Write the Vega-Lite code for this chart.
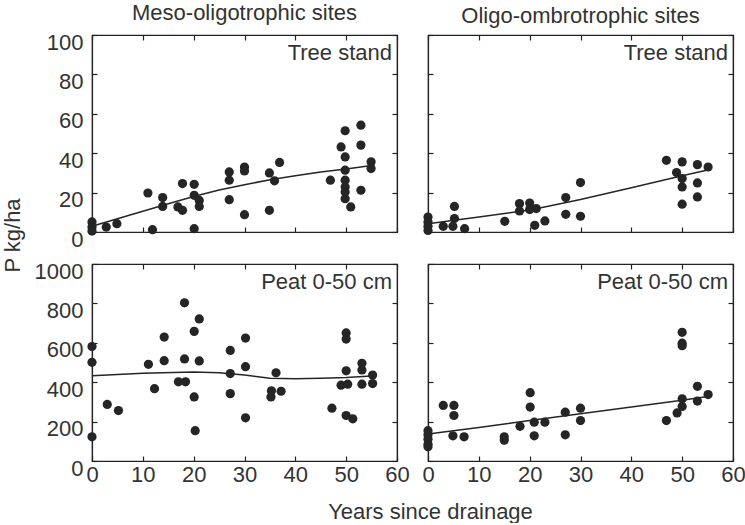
{
  "$schema": "https://vega.github.io/schema/vega-lite/v6.json",
  "background": "white",
  "padding": {"left": 0, "top": 1, "right": 0, "bottom": 0},
  "config": {
    "font": "Liberation Sans",
    "view": {"stroke": "#222", "strokeWidth": 1.2},
    "axis": {
      "grid": false,
      "domainColor": "#222",
      "domainWidth": 1.2,
      "tickColor": "#222",
      "tickSize": -5,
      "tickWidth": 1.2,
      "labelFontSize": 22,
      "labelColor": "#333",
      "labelPadding": 8,
      "labelFlush": false,
      "labelOverlap": false,
      "titleFontSize": 22,
      "titleFontWeight": "normal",
      "titleColor": "#333"
    },
    "axisY": {"labelPadding": 14, "labelOffset": 7, "format": "d"},
    "title": {"fontSize": 22, "fontWeight": "normal", "color": "#333", "offset": 6, "frame": "group", "baseline": "alphabetic"}
  },
  "datasets": {
    "points": [
      {"panel": "tm", "x": 0, "y": 5.1}, {"panel": "tm", "x": 0, "y": 2.5}, {"panel": "tm", "x": 0, "y": 0.5},
      {"panel": "tm", "x": 2.8, "y": 2.5}, {"panel": "tm", "x": 4.9, "y": 4.2}, {"panel": "tm", "x": 11, "y": 19.8},
      {"panel": "tm", "x": 11.9, "y": 1.2}, {"panel": "tm", "x": 13.9, "y": 17.5}, {"panel": "tm", "x": 13.9, "y": 13},
      {"panel": "tm", "x": 16.9, "y": 12.7}, {"panel": "tm", "x": 17.8, "y": 11}, {"panel": "tm", "x": 17.8, "y": 24.6},
      {"panel": "tm", "x": 20.1, "y": 24.2}, {"panel": "tm", "x": 20.1, "y": 1.7}, {"panel": "tm", "x": 20.1, "y": 18.6},
      {"panel": "tm", "x": 21.1, "y": 16}, {"panel": "tm", "x": 21.1, "y": 13}, {"panel": "tm", "x": 27, "y": 30.5},
      {"panel": "tm", "x": 27, "y": 26.3}, {"panel": "tm", "x": 27, "y": 16.4}, {"panel": "tm", "x": 30, "y": 33},
      {"panel": "tm", "x": 30, "y": 31}, {"panel": "tm", "x": 30, "y": 8.8}, {"panel": "tm", "x": 34.9, "y": 30},
      {"panel": "tm", "x": 35.9, "y": 26}, {"panel": "tm", "x": 34.9, "y": 11}, {"panel": "tm", "x": 36.9, "y": 35.3},
      {"panel": "tm", "x": 46.9, "y": 26.3}, {"panel": "tm", "x": 49.8, "y": 51.4}, {"panel": "tm", "x": 49, "y": 43.2},
      {"panel": "tm", "x": 49.8, "y": 38.1}, {"panel": "tm", "x": 49.8, "y": 31.4}, {"panel": "tm", "x": 49.8, "y": 26.3},
      {"panel": "tm", "x": 49.8, "y": 22.9}, {"panel": "tm", "x": 49.8, "y": 20.3}, {"panel": "tm", "x": 49.8, "y": 16.9},
      {"panel": "tm", "x": 50.9, "y": 12.7}, {"panel": "tm", "x": 52.9, "y": 54.2}, {"panel": "tm", "x": 52.9, "y": 44.1},
      {"panel": "tm", "x": 52.9, "y": 21.2}, {"panel": "tm", "x": 54.9, "y": 35.6}, {"panel": "tm", "x": 54.9, "y": 32.2},

      {"panel": "to", "x": 0, "y": 7.6}, {"panel": "to", "x": 0, "y": 5.1}, {"panel": "to", "x": 0, "y": 2.9},
      {"panel": "to", "x": 0, "y": 0.8}, {"panel": "to", "x": 3, "y": 2.9}, {"panel": "to", "x": 5.2, "y": 13},
      {"panel": "to", "x": 5.2, "y": 6.8}, {"panel": "to", "x": 4.9, "y": 2.9}, {"panel": "to", "x": 7.2, "y": 1.7},
      {"panel": "to", "x": 15.1, "y": 5.4}, {"panel": "to", "x": 18, "y": 14.4}, {"panel": "to", "x": 18, "y": 10.7},
      {"panel": "to", "x": 20, "y": 14.7}, {"panel": "to", "x": 20, "y": 11.4}, {"panel": "to", "x": 21.3, "y": 11.9},
      {"panel": "to", "x": 21, "y": 3.4}, {"panel": "to", "x": 23, "y": 5.6}, {"panel": "to", "x": 27.1, "y": 17.5},
      {"panel": "to", "x": 27.1, "y": 9}, {"panel": "to", "x": 30, "y": 25.1}, {"panel": "to", "x": 30, "y": 8},
      {"panel": "to", "x": 46.9, "y": 36.4}, {"panel": "to", "x": 50, "y": 35.6}, {"panel": "to", "x": 48.9, "y": 30.2},
      {"panel": "to", "x": 50, "y": 27.1}, {"panel": "to", "x": 50, "y": 22.9}, {"panel": "to", "x": 50, "y": 14.1},
      {"panel": "to", "x": 53, "y": 34.2}, {"panel": "to", "x": 53, "y": 24.9}, {"panel": "to", "x": 53, "y": 17.8},
      {"panel": "to", "x": 55.1, "y": 33},

      {"panel": "pm", "x": 0, "y": 581}, {"panel": "pm", "x": 0, "y": 501}, {"panel": "pm", "x": 0, "y": 123},
      {"panel": "pm", "x": 3, "y": 287}, {"panel": "pm", "x": 5.2, "y": 256}, {"panel": "pm", "x": 11.1, "y": 491},
      {"panel": "pm", "x": 12.3, "y": 367}, {"panel": "pm", "x": 14.2, "y": 629}, {"panel": "pm", "x": 14.2, "y": 509},
      {"panel": "pm", "x": 17, "y": 402}, {"panel": "pm", "x": 18.4, "y": 402}, {"panel": "pm", "x": 18.2, "y": 803},
      {"panel": "pm", "x": 18.2, "y": 518}, {"panel": "pm", "x": 20.1, "y": 658}, {"panel": "pm", "x": 21.1, "y": 721},
      {"panel": "pm", "x": 21.1, "y": 508}, {"panel": "pm", "x": 20.1, "y": 325}, {"panel": "pm", "x": 20.3, "y": 154},
      {"panel": "pm", "x": 27.2, "y": 561}, {"panel": "pm", "x": 27.2, "y": 444}, {"panel": "pm", "x": 27.2, "y": 342},
      {"panel": "pm", "x": 30.2, "y": 624}, {"panel": "pm", "x": 30.2, "y": 479}, {"panel": "pm", "x": 30.2, "y": 219},
      {"panel": "pm", "x": 35.2, "y": 325}, {"panel": "pm", "x": 35.3, "y": 356}, {"panel": "pm", "x": 37.2, "y": 354},
      {"panel": "pm", "x": 36.2, "y": 448}, {"panel": "pm", "x": 47.2, "y": 268}, {"panel": "pm", "x": 50, "y": 650},
      {"panel": "pm", "x": 50, "y": 619}, {"panel": "pm", "x": 50, "y": 458}, {"panel": "pm", "x": 49, "y": 385},
      {"panel": "pm", "x": 50.3, "y": 390}, {"panel": "pm", "x": 50, "y": 231}, {"panel": "pm", "x": 51.3, "y": 214},
      {"panel": "pm", "x": 53.1, "y": 496}, {"panel": "pm", "x": 53.1, "y": 462}, {"panel": "pm", "x": 53.1, "y": 390},
      {"panel": "pm", "x": 55.2, "y": 436}, {"panel": "pm", "x": 55.2, "y": 393},

      {"panel": "po", "x": 0, "y": 154}, {"panel": "po", "x": 0, "y": 133}, {"panel": "po", "x": 0, "y": 111},
      {"panel": "po", "x": 0, "y": 85}, {"panel": "po", "x": 0, "y": 72}, {"panel": "po", "x": 3, "y": 282},
      {"panel": "po", "x": 5.1, "y": 282}, {"panel": "po", "x": 5.1, "y": 231}, {"panel": "po", "x": 4.9, "y": 128},
      {"panel": "po", "x": 7.1, "y": 123}, {"panel": "po", "x": 15, "y": 123}, {"panel": "po", "x": 15, "y": 106},
      {"panel": "po", "x": 18.1, "y": 176}, {"panel": "po", "x": 20.1, "y": 347}, {"panel": "po", "x": 20.1, "y": 274},
      {"panel": "po", "x": 20.9, "y": 197}, {"panel": "po", "x": 20.9, "y": 128}, {"panel": "po", "x": 23, "y": 197},
      {"panel": "po", "x": 27, "y": 248}, {"panel": "po", "x": 27, "y": 133}, {"panel": "po", "x": 30, "y": 268},
      {"panel": "po", "x": 30, "y": 205}, {"panel": "po", "x": 46.9, "y": 205}, {"panel": "po", "x": 49, "y": 244},
      {"panel": "po", "x": 50, "y": 653}, {"panel": "po", "x": 50, "y": 598}, {"panel": "po", "x": 50, "y": 585},
      {"panel": "po", "x": 50, "y": 316}, {"panel": "po", "x": 50, "y": 277}, {"panel": "po", "x": 53, "y": 379},
      {"panel": "po", "x": 53, "y": 304}, {"panel": "po", "x": 55.1, "y": 337}
    ],
    "fits": [
      {"panel": "tm", "x": 0, "y": 2.9}, {"panel": "tm", "x": 5, "y": 6.7}, {"panel": "tm", "x": 10, "y": 10.5},
      {"panel": "tm", "x": 15, "y": 14.3}, {"panel": "tm", "x": 20, "y": 18}, {"panel": "tm", "x": 25, "y": 21.3},
      {"panel": "tm", "x": 30, "y": 24}, {"panel": "tm", "x": 35, "y": 26.5}, {"panel": "tm", "x": 40, "y": 28.6},
      {"panel": "tm", "x": 45, "y": 30.4}, {"panel": "tm", "x": 50, "y": 32}, {"panel": "tm", "x": 55, "y": 33.8},

      {"panel": "to", "x": 0, "y": 4.2}, {"panel": "to", "x": 10, "y": 7.6}, {"panel": "to", "x": 20, "y": 11.2},
      {"panel": "to", "x": 21.5, "y": 11.9}, {"panel": "to", "x": 30, "y": 16.5}, {"panel": "to", "x": 40, "y": 22.5},
      {"panel": "to", "x": 50, "y": 28.5}, {"panel": "to", "x": 55, "y": 31.5},

      {"panel": "pm", "x": 0, "y": 433}, {"panel": "pm", "x": 10, "y": 446}, {"panel": "pm", "x": 20, "y": 452},
      {"panel": "pm", "x": 25, "y": 448}, {"panel": "pm", "x": 30, "y": 436}, {"panel": "pm", "x": 35, "y": 420},
      {"panel": "pm", "x": 40, "y": 418}, {"panel": "pm", "x": 45, "y": 420}, {"panel": "pm", "x": 50, "y": 424},
      {"panel": "pm", "x": 55, "y": 432},

      {"panel": "po", "x": 0, "y": 137}, {"panel": "po", "x": 10, "y": 170}, {"panel": "po", "x": 20, "y": 205},
      {"panel": "po", "x": 30, "y": 240}, {"panel": "po", "x": 40, "y": 274}, {"panel": "po", "x": 50, "y": 308},
      {"panel": "po", "x": 55, "y": 327}
    ]
  },
  "concat": [
    {
      "width": 305, "height": 197,
      "title": "Meso-oligotrophic sites",
      "layer": [
        {
          "data": {"name": "points"},
          "transform": [{"filter": "datum.panel === 'tm'"}],
          "mark": {"type": "circle", "size": 85, "color": "#252525", "opacity": 1},
          "encoding": {
            "x": {"field": "x", "type": "quantitative", "scale": {"domain": [0, 60], "nice": false},
                  "axis": {"orient": "bottom", "values": [0, 10, 20, 30, 40, 50, 60], "labels": false, "title": null}},
            "y": {"field": "y", "type": "quantitative", "scale": {"domain": [0, 100], "nice": false},
                  "axis": {"orient": "left", "values": [0, 20, 40, 60, 80, 100], "title": "P kg/ha", "titleX": -68, "titleY": 200, "titleAlign": "center", "titleBaseline": "bottom"}}
          }
        },
        {
          "data": {"name": "fits"},
          "transform": [{"filter": "datum.panel === 'tm'"}],
          "mark": {"type": "line", "color": "#252525", "strokeWidth": 1.5},
          "encoding": {
            "x": {"field": "x", "type": "quantitative", "axis": {"orient": "top", "values": [0, 10, 20, 30, 40, 50, 60], "labels": false, "title": null}},
            "y": {"field": "y", "type": "quantitative", "axis": {"orient": "right", "values": [0, 20, 40, 60, 80, 100], "labels": false, "title": null}}
          }
        },
        {
          "data": {"values": [{"label": "Tree stand"}]},
          "mark": {"type": "text", "align": "right", "baseline": "top", "dx": -5, "dy": 8, "fontSize": 22, "color": "#333"},
          "encoding": {
            "x": {"datum": 60, "type": "quantitative", "axis": null},
            "y": {"datum": 100, "type": "quantitative", "axis": null},
            "text": {"field": "label"}
          }
        }
      ],
      "resolve": {"axis": {"x": "independent", "y": "independent"}}
    },
    {
      "width": 305, "height": 197,
      "title": "Oligo-ombrotrophic sites",
      "layer": [
        {
          "data": {"name": "points"},
          "transform": [{"filter": "datum.panel === 'to'"}],
          "mark": {"type": "circle", "size": 85, "color": "#252525", "opacity": 1},
          "encoding": {
            "x": {"field": "x", "type": "quantitative", "scale": {"domain": [0, 60], "nice": false},
                  "axis": {"orient": "bottom", "values": [0, 10, 20, 30, 40, 50, 60], "labels": false, "title": null}},
            "y": {"field": "y", "type": "quantitative", "scale": {"domain": [0, 100], "nice": false},
                  "axis": {"orient": "left", "values": [0, 20, 40, 60, 80, 100], "labels": false, "title": null}}
          }
        },
        {
          "data": {"name": "fits"},
          "transform": [{"filter": "datum.panel === 'to'"}],
          "mark": {"type": "line", "color": "#252525", "strokeWidth": 1.5},
          "encoding": {
            "x": {"field": "x", "type": "quantitative", "axis": {"orient": "top", "values": [0, 10, 20, 30, 40, 50, 60], "labels": false, "title": null}},
            "y": {"field": "y", "type": "quantitative", "axis": {"orient": "right", "values": [0, 20, 40, 60, 80, 100], "labels": false, "title": null}}
          }
        },
        {
          "data": {"values": [{"label": "Tree stand"}]},
          "mark": {"type": "text", "align": "right", "baseline": "top", "dx": -5, "dy": 8, "fontSize": 22, "color": "#333"},
          "encoding": {
            "x": {"datum": 60, "type": "quantitative", "axis": null},
            "y": {"datum": 100, "type": "quantitative", "axis": null},
            "text": {"field": "label"}
          }
        }
      ],
      "resolve": {"axis": {"x": "independent", "y": "independent"}}
    },
    {
      "width": 305, "height": 197,
      "layer": [
        {
          "data": {"name": "points"},
          "transform": [{"filter": "datum.panel === 'pm'"}],
          "mark": {"type": "circle", "size": 85, "color": "#252525", "opacity": 1},
          "encoding": {
            "x": {"field": "x", "type": "quantitative", "scale": {"domain": [0, 60], "nice": false},
                  "axis": {"orient": "bottom", "values": [0, 10, 20, 30, 40, 50, 60], "title": "Years since drainage", "titleX": 338, "titleY": 40, "titleAlign": "center", "titleBaseline": "top"}},
            "y": {"field": "y", "type": "quantitative", "scale": {"domain": [0, 1000], "nice": false},
                  "axis": {"orient": "left", "values": [0, 200, 400, 600, 800, 1000], "title": null}}
          }
        },
        {
          "data": {"name": "fits"},
          "transform": [{"filter": "datum.panel === 'pm'"}],
          "mark": {"type": "line", "color": "#252525", "strokeWidth": 1.5},
          "encoding": {
            "x": {"field": "x", "type": "quantitative", "axis": {"orient": "top", "values": [0, 10, 20, 30, 40, 50, 60], "labels": false, "title": null}},
            "y": {"field": "y", "type": "quantitative", "axis": {"orient": "right", "values": [0, 200, 400, 600, 800, 1000], "labels": false, "title": null}}
          }
        },
        {
          "data": {"values": [{"label": "Peat 0-50 cm"}]},
          "mark": {"type": "text", "align": "right", "baseline": "top", "dx": -5, "dy": 8, "fontSize": 22, "color": "#333"},
          "encoding": {
            "x": {"datum": 60, "type": "quantitative", "axis": null},
            "y": {"datum": 1000, "type": "quantitative", "axis": null},
            "text": {"field": "label"}
          }
        }
      ],
      "resolve": {"axis": {"x": "independent", "y": "independent"}}
    },
    {
      "width": 305, "height": 197,
      "layer": [
        {
          "data": {"name": "points"},
          "transform": [{"filter": "datum.panel === 'po'"}],
          "mark": {"type": "circle", "size": 85, "color": "#252525", "opacity": 1},
          "encoding": {
            "x": {"field": "x", "type": "quantitative", "scale": {"domain": [0, 60], "nice": false},
                  "axis": {"orient": "bottom", "values": [0, 10, 20, 30, 40, 50, 60], "title": null}},
            "y": {"field": "y", "type": "quantitative", "scale": {"domain": [0, 1000], "nice": false},
                  "axis": {"orient": "left", "values": [0, 200, 400, 600, 800, 1000], "labels": false, "title": null}}
          }
        },
        {
          "data": {"name": "fits"},
          "transform": [{"filter": "datum.panel === 'po'"}],
          "mark": {"type": "line", "color": "#252525", "strokeWidth": 1.5},
          "encoding": {
            "x": {"field": "x", "type": "quantitative", "axis": {"orient": "top", "values": [0, 10, 20, 30, 40, 50, 60], "labels": false, "title": null}},
            "y": {"field": "y", "type": "quantitative", "axis": {"orient": "right", "values": [0, 200, 400, 600, 800, 1000], "labels": false, "title": null}}
          }
        },
        {
          "data": {"values": [{"label": "Peat 0-50 cm"}]},
          "mark": {"type": "text", "align": "right", "baseline": "top", "dx": -5, "dy": 8, "fontSize": 22, "color": "#333"},
          "encoding": {
            "x": {"datum": 60, "type": "quantitative", "axis": null},
            "y": {"datum": 1000, "type": "quantitative", "axis": null},
            "text": {"field": "label"}
          }
        }
      ],
      "resolve": {"axis": {"x": "independent", "y": "independent"}}
    }
  ],
  "columns": 2,
  "spacing": {"row": 32, "column": 31},
  "bounds": "flush"
}
